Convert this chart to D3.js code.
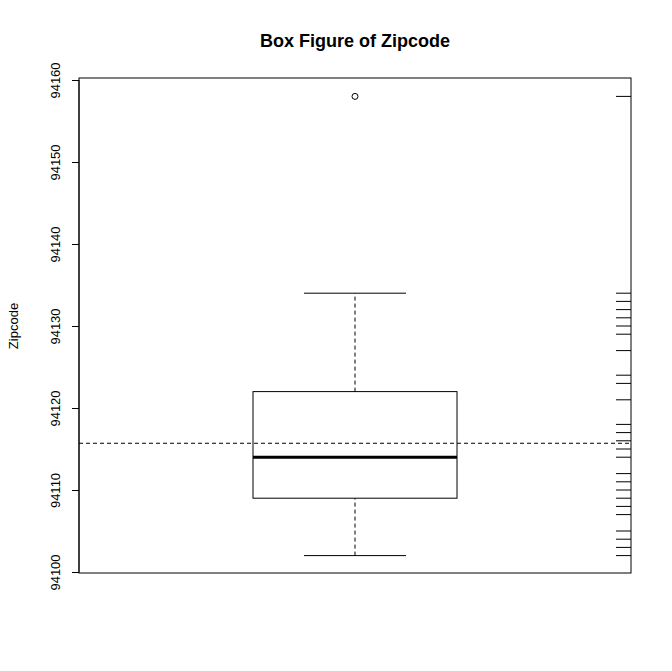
<!DOCTYPE html>
<html>
<head>
<meta charset="utf-8">
<script src="https://d3js.org/d3.v7.min.js"></script>
<style>body{margin:0;background:#fff}text{font-family:"Liberation Sans",Arial,sans-serif}</style>
</head>
<body>
<script>
// rug values (unique zipcodes seen on the right edge)
var zipcodes = [94102,94103,94104,94105,94107,94108,94109,94110,94111,94112,94114,94115,94116,94117,94118,94121,94123,94124,94127,94129,94130,94131,94132,94133,94134,94158];
// boxplot stats: lower whisker, Q1, median, Q3, upper whisker
var boxStats = [94102, 94109, 94114, 94122, 94134];
var outliers = [94158];
var meanValue = 94115.7;
var yTicks = [94100,94110,94120,94130,94140,94150,94160];

var W = 672, H = 671, L = 79, R = 631, T = 78, B = 573;
var svg = d3.select("body").append("svg").attr("width", W).attr("height", H);
var y = d3.scaleLinear().domain([94100, 94160]).range([572, 80]);
var x = d3.scaleLinear().domain([0.5, 1.5]).range([L + 3, R - 3]);

svg.append("rect").attr("x", L).attr("y", T).attr("width", R - L).attr("height", B - T)
  .attr("fill", "none").attr("stroke", "#000");

var ax = svg.append("g").attr("transform", "translate(" + L + ",0)").call(d3.axisLeft(y).tickValues(yTicks).tickSize(7).tickFormat(d3.format("d")));
ax.select(".domain").attr("d", "M0," + y(94100) + "V" + y(94160));
ax.selectAll("text").attr("font-size", 13).attr("fill", "#000")
  .attr("x", -24).attr("y", 0).attr("dy", "0.35em").style("text-anchor", "middle")
  .attr("transform", "rotate(-90,-24,0)");

var cx = x(1), hw = 102, cw = 51;
var g = svg.append("g").attr("stroke", "#000").attr("fill", "none");
g.append("line").attr("x1", cx).attr("x2", cx).attr("y1", y(boxStats[0])).attr("y2", y(boxStats[1])).attr("stroke-dasharray", "4,3");
g.append("line").attr("x1", cx).attr("x2", cx).attr("y1", y(boxStats[3])).attr("y2", y(boxStats[4])).attr("stroke-dasharray", "4,3");
[boxStats[0], boxStats[4]].forEach(function(v){
  g.append("line").attr("x1", cx - cw).attr("x2", cx + cw).attr("y1", y(v)).attr("y2", y(v));
});
g.append("rect").attr("x", cx - hw).attr("width", 2 * hw).attr("y", y(boxStats[3])).attr("height", y(boxStats[1]) - y(boxStats[3]));
g.append("line").attr("x1", cx - hw).attr("x2", cx + hw).attr("y1", y(boxStats[2])).attr("y2", y(boxStats[2])).attr("stroke-width", 3);
outliers.forEach(function(v){
  g.append("circle").attr("cx", cx).attr("cy", y(v)).attr("r", 3);
});

// mean line
svg.append("line").attr("x1", L).attr("x2", R).attr("y1", y(meanValue)).attr("y2", y(meanValue))
  .attr("stroke", "#000").attr("stroke-dasharray", "4,3");

// rug on right
svg.append("g").selectAll("line").data(zipcodes).join("line")
  .attr("x1", R - 15).attr("x2", R).attr("y1", function(d){ return y(d); }).attr("y2", function(d){ return y(d); })
  .attr("stroke", "#000");

svg.append("text").attr("x", 355).attr("y", 47).attr("text-anchor", "middle").attr("font-size", 18).attr("font-weight", "bold").text("Box Figure of Zipcode");
svg.append("text").attr("transform", "translate(18,326) rotate(-90)").attr("text-anchor", "middle").attr("font-size", 13).text("Zipcode");
</script>
</body>
</html>
